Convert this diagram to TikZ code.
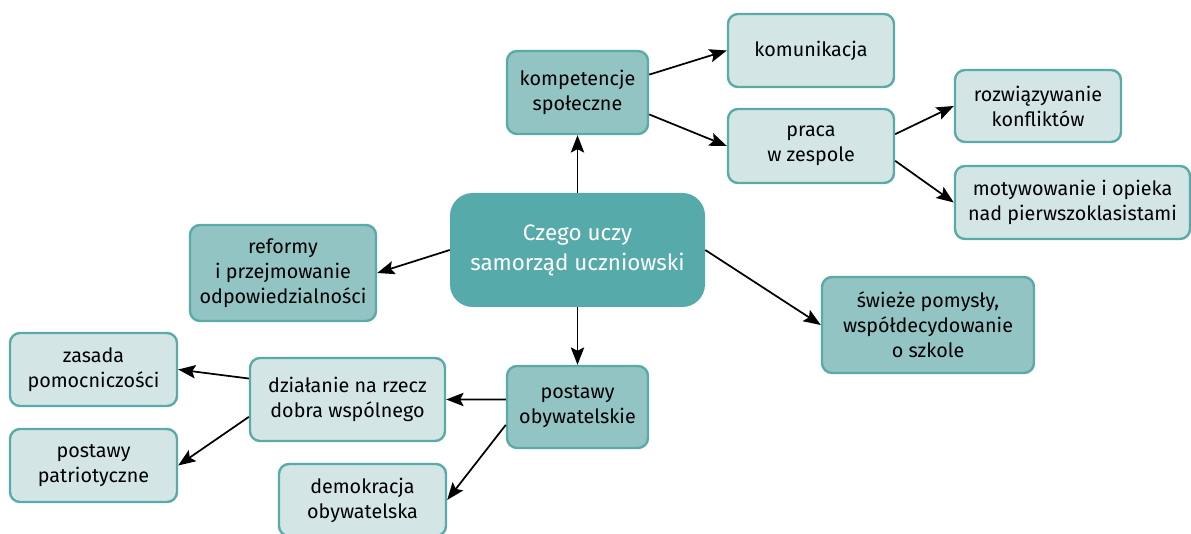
\documentclass[tikz,border=0pt]{standalone}
\usepackage{fontspec}
\setmainfont{Fira Sans}
\usetikzlibrary{arrows.meta}
\definecolor{ramka}{HTML}{5AAAA8}
\definecolor{tlojasne}{HTML}{D3E6E5}
\definecolor{tlosrednie}{HTML}{92C4C3}
\definecolor{tloglowne}{HTML}{56ABAA}
\begin{document}
\begin{tikzpicture}[x=0.75pt,y=-0.75pt,
  jasny/.style={draw=ramka, fill=tlojasne, line width=1.8pt, rounded corners=7.5pt,
    align=center, inner sep=0pt, font=\fontsize{14.8}{18.75}\selectfont},
  sredni/.style={jasny, fill=tlosrednie},
  glowny/.style={fill=tloglowne, rounded corners=17pt, align=center, inner sep=0pt,
    text=white, font=\fontsize{16.8}{22.5}\selectfont},
  strzalka/.style={-{Stealth[length=13pt,width=10pt,inset=2.5pt]}, line width=1.3pt}]
  \useasboundingbox (0,0) rectangle (1191,534);

  % Centrum
  \node[glowny, minimum width=191.25pt, minimum height=85.5pt] (centrum) at (577.5,250)
    {Czego uczy\\samorząd uczniowski};

  % Galaz gorna
  \node[sredni, minimum width=105.75pt, minimum height=62.25pt] (kompetencje) at (577.5,92.5)
    {kompetencje\\społeczne};
  \node[jasny, minimum width=124.5pt, minimum height=54.75pt] (komunikacja) at (811,50.5)
    {komunikacja};
  \node[jasny, minimum width=124.5pt, minimum height=55.5pt] (praca) at (811,146)
    {praca\\w zespole};
  \node[jasny, minimum width=124.5pt, minimum height=54pt] (konflikty) at (1038,106)
    {rozwiązywanie\\konfliktów};
  \node[jasny, minimum width=176.25pt, minimum height=54.75pt] (opieka) at (1072.5,202.5)
    {motywowanie i opieka\\nad pierwszoklasistami};

  % Boki
  \node[sredni, minimum width=139.5pt, minimum height=72pt] (reformy) at (283,273)
    {reformy\\i przejmowanie\\odpowiedzialności};
  \node[sredni, minimum width=159pt, minimum height=72pt] (pomysly) at (928,325)
    {świeże pomysły,\\współdecydowanie\\o szkole};

  % Galaz dolna
  \node[sredni, minimum width=105.75pt, minimum height=61.5pt] (postawy) at (577.5,407)
    {postawy\\obywatelskie};
  \node[jasny, minimum width=146.25pt, minimum height=62.25pt] (dzialanie) at (347.5,399.5)
    {działanie na rzecz\\dobra wspólnego};
  \node[jasny, minimum width=125.25pt, minimum height=54.75pt] (zasada) at (93.5,369.5)
    {zasada\\pomocniczości};
  \node[jasny, minimum width=125.25pt, minimum height=54.75pt] (patriot) at (93.5,465.5)
    {postawy\\patriotyczne};
  \node[jasny, minimum width=125.25pt, minimum height=54pt] (demokracja) at (362.5,500)
    {demokracja\\obywatelska};

  % Strzalki
  \draw[strzalka] (centrum.north -| kompetencje.south) -- (kompetencje.south);
  \draw[strzalka] (centrum.south -| postawy.north) -- (postawy.north);
  \draw[strzalka] (centrum.west) -- (reformy.east);
  \draw[strzalka] (centrum.east) -- (pomysly.west);
  \draw[strzalka] (kompetencje.14) -- (komunikacja.west);
  \draw[strzalka] (kompetencje.-17) -- (praca.west);
  \draw[strzalka] (praca.8) -- (konflikty.west);
  \draw[strzalka] (praca.-10) -- (opieka.west);
  \draw[strzalka] (postawy.174) -- (dzialanie.east);
  \draw[strzalka] (postawy.194) -- (demokracja.east);
  \draw[strzalka] (dzialanie.168) -- (zasada.east);
  \draw[strzalka] (dzialanie.190) -- (patriot.east);
\end{tikzpicture}
\end{document}
